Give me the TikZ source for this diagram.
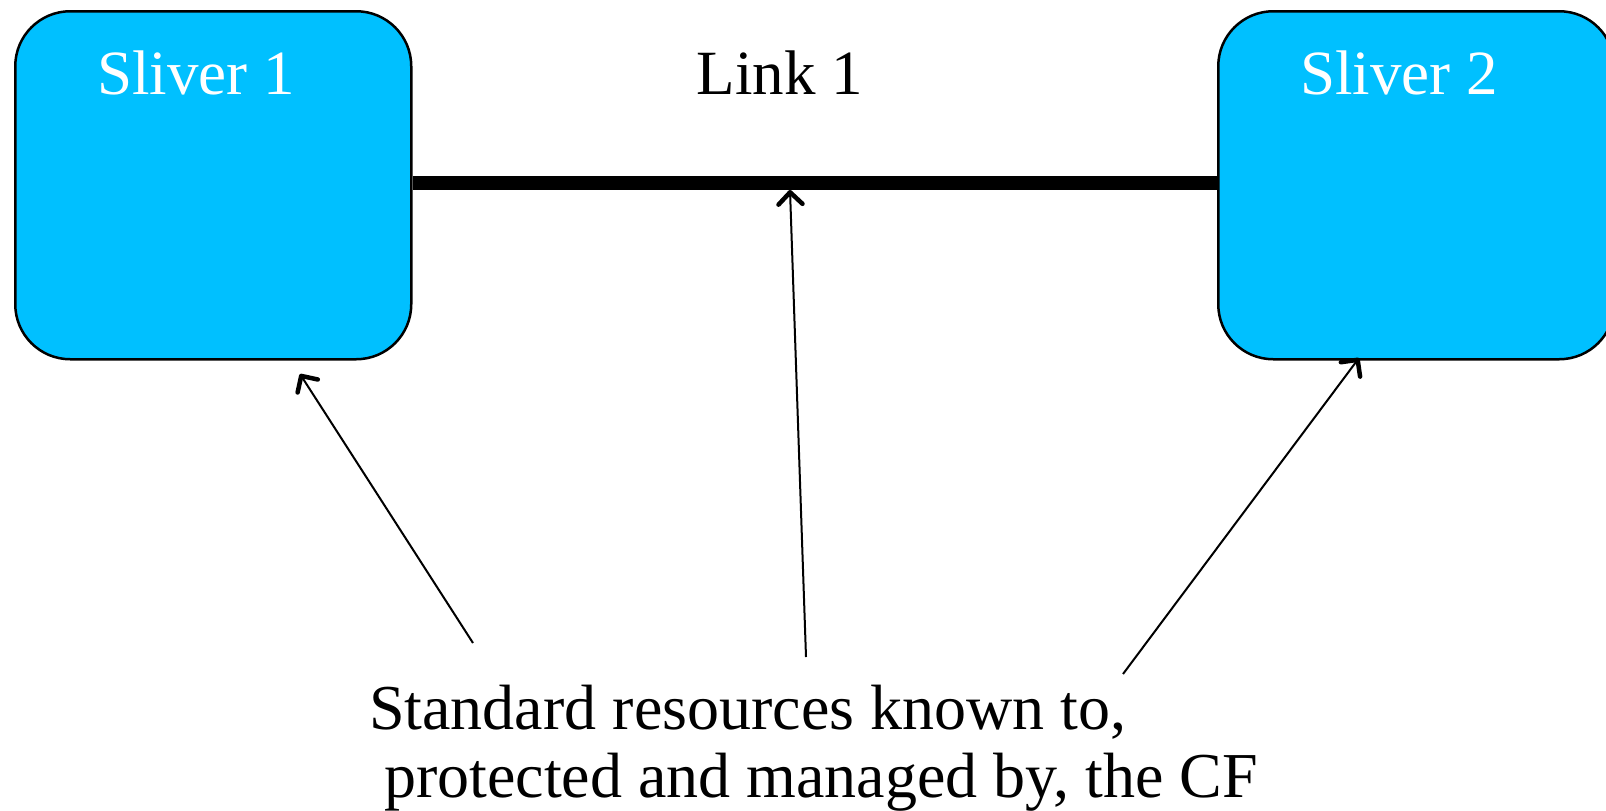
\documentclass[tikz,border=0pt]{standalone}
\usepackage{fontspec}
\setmainfont{Liberation Serif}
\usetikzlibrary{arrows.meta}
\definecolor{sliverblue}{RGB}{0,192,255}
\tikzset{
  sliver/.style={draw=black, line width=2.5pt, fill=sliverblue, rounded corners=55pt,
    minimum width=396pt, minimum height=348pt, inner sep=0pt, anchor=north west},
  title/.style={text=white, font=\fontsize{63}{68}\selectfont, anchor=base, inner sep=0pt},
  caption/.style={font=\fontsize{64}{68}\selectfont, anchor=base west, inner sep=0pt, align=left},
  pointer/.style={line width=2pt, -{Straight Barb[length=12pt, width=24pt, line width=4.5pt, round]}},
  linkline/.style={line width=14pt}
}
\begin{document}
\begin{tikzpicture}[x=1pt, y=-1pt]
  \useasboundingbox (0,0) rectangle (1606,811);
  \fill[white] (0,0) rectangle (1606,811);

  % the two slivers
  \node[sliver] (s1) at (14,10) {};
  \node[sliver] (s2) at (1217,10) {};
  \node[title] (t1) at (196,94) {Sliver 1};
  \node[title] (t2) at (1399,94) {Sliver 2};

  % the link between them
  \draw[linkline] (s1.east |- 0,183) -- (s2.west |- 0,183);
  \node[title, text=black] (l1) at (780,94) {Link 1};

  % caption (anchored on its last baseline) with its pointers
  \node[caption] (cap) at (369,797) {Standard resources known to,\\\hspace*{15pt}protected and managed by, the CF};
  \coordinate (a1) at (473,643);
  \coordinate (a2) at (806,657);
  \coordinate (a3) at (1123,674);
  \coordinate (h1) at (300,374);
  \coordinate (h2) at (790,190);
  \coordinate (h3) at (1359,358);
  \draw[pointer] (a1) -- (h1);
  \draw[pointer] (a2) -- (h2);
  \draw[pointer] (a3) -- (h3);
\end{tikzpicture}
\end{document}
